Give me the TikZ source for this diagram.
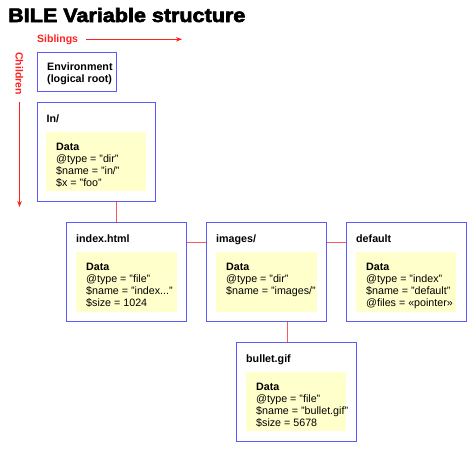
\documentclass[tikz,border=0pt]{standalone}
\usepackage{fontspec}
\setmainfont{Liberation Sans}
\newfontfamily\titlefont[FakeBold=3]{Liberation Sans Bold}
\usetikzlibrary{arrows.meta}
\definecolor{bordblue}{RGB}{90,90,255}
\definecolor{paleyel}{RGB}{255,255,204}
\definecolor{connred}{RGB}{255,88,88}
\definecolor{labred}{RGB}{255,32,32}
\newcommand\blocklines[4]{%
  \foreach \ln [count=\k from 0] in {#4} {\node[txt] (#1-\k) at (#2, #3+12*\k) {\ln};}}
\begin{document}
\begin{tikzpicture}[x=1pt,y=-1pt,
  outer/.style={draw=bordblue, line width=1pt, anchor=north west, inner sep=0pt, minimum width=#1},
  outer/.default=120pt,
  inner/.style={fill=paleyel, anchor=north west, inner sep=0pt},
  hdr/.style={font=\bfseries\fontsize{10.7}{12}\selectfont, anchor=base west, inner sep=0pt},
  txt/.style={font=\fontsize{10.7}{12}\selectfont, anchor=base west, inner sep=0pt},
  lab/.style={font=\bfseries\fontsize{10.5}{12}\selectfont, text=labred, inner sep=0pt},
  conn/.style={draw=connred, line width=1pt},
  guide/.style={draw=labred, line width=0.8pt, -{Stealth[length=6pt,width=4.5pt]}}]
\useasboundingbox (0,0) rectangle (474,450);
% title
\node[anchor=base west, inner sep=0pt, font=\titlefont\fontsize{19.5}{22}\selectfont, xscale=1.105] (title) at (8,22) {BILE Variable structure};
% guides
\node[lab, anchor=base west] (sib) at (37,42) {Siblings};
\coordinate (sibA) at (86,39.3);
\coordinate (sibB) at (182,39.3);
\draw[guide] (sibA) -- (sibB);
\node[lab, rotate=-90] (chi) at (19.5,73.5) {Children};
\coordinate (chiA) at (19.5,102);
\coordinate (chiB) at (19.5,207);
\draw[guide] (chiA) -- (chiB);
% environment
\node[outer=79pt, minimum height=39pt] (env) at (37,52) {};
\node[hdr] (env-1) at (47,70) {Environment};
\node[hdr] (env-2) at (47,82) {(logical root)};
% In/
\node[outer=118pt, minimum height=99pt] (in) at (37,102) {};
\node[hdr] (in-h) at (46.5,122) {In/};
\node[inner, minimum width=100pt, minimum height=59pt] (in-d) at (46,132) {};
\blocklines{in-l}{56}{150}{{\textbf{Data}},{@type = "dir"},{\$name = "in/"},{\$x = "foo"}}
% index.html
\node[outer, minimum height=99pt] (index) at (66,222) {};
\node[hdr] (index-h) at (76,242) {index.html};
\node[inner, minimum width=101pt, minimum height=60pt] (index-d) at (76,252) {};
\blocklines{index-l}{86}{270}{{\textbf{Data}},{@type = "file"},{\$name = "index{.}{.}{.}"},{\$size = 1024}}
% images/
\node[outer, minimum height=99pt] (images) at (206,222) {};
\node[hdr] (images-h) at (216,242) {images/};
\node[inner, minimum width=101pt, minimum height=60pt] (images-d) at (216,252) {};
\blocklines{images-l}{226}{270}{{\textbf{Data}},{@type = "dir"},{\$name = "images/"}}
% default
\node[outer, minimum height=99pt] (default) at (346,222) {};
\node[hdr] (default-h) at (356,242) {default};
\node[inner, minimum width=100pt, minimum height=60pt] (default-d) at (356,252) {};
\blocklines{default-l}{366}{270}{{\textbf{Data}},{@type = "index"},{\$name = "default"},{@files = «pointer»}}
% bullet.gif
\node[outer, minimum height=99pt] (bullet) at (236,342) {};
\node[hdr] (bullet-h) at (246,362) {bullet.gif};
\node[inner, minimum width=100pt, minimum height=59pt] (bullet-d) at (246,372) {};
\blocklines{bullet-l}{256}{390}{{\textbf{Data}},{@type = "file"},{\$name = "bullet.gif"},{\$size = 5678}}
% connectors
\coordinate (c1) at (116.5,0);
\coordinate (c2) at (0,242.5);
\coordinate (c3) at (287,0);
\draw[conn] (c1 |- in.south) -- (c1 |- index.north);
\draw[conn] (index.east |- c2) -- (images.west |- c2);
\draw[conn] (images.east |- c2) -- (default.west |- c2);
\draw[conn] (c3 |- images.south) -- (c3 |- bullet.north);
\end{tikzpicture}
\end{document}
